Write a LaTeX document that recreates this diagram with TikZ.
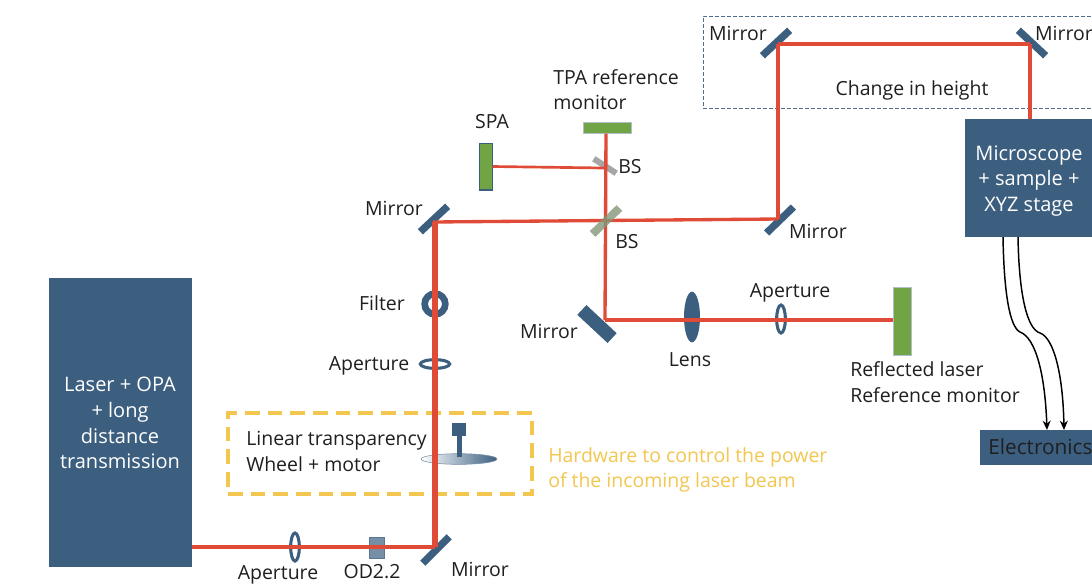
\documentclass[tikz,border=0pt]{standalone}
\usepackage{fontspec}
\setmainfont{Open Sans}
\usetikzlibrary{arrows.meta,shadings,shapes.geometric}
\definecolor{navy}{HTML}{3C5F80}
\definecolor{beamred}{HTML}{DF4B36}
\definecolor{dgreen}{HTML}{70A444}
\definecolor{gold}{HTML}{F2C64F}
\definecolor{ink}{HTML}{1F1F1F}
\definecolor{bsgreen}{HTML}{84977A}
\tikzset{
  lab/.style={font=\fontsize{14.6}{19}\selectfont,text=ink,inner sep=0pt,align=left},
  whitelab/.style={font=\fontsize{15}{19.3}\selectfont,text=white,inner sep=0pt,align=center},
  goldlab/.style={font=\fontsize{14.6}{19}\selectfont,text=gold,inner sep=0pt,align=left},
  box/.style={draw=navy,fill=navy,inner sep=0pt,line width=0.5pt,outer sep=0pt},
  mirror/.style={fill=navy,draw=none,inner sep=0pt,minimum width=28pt,minimum height=5.5pt},
  detector/.style={fill=dgreen,draw=navy!40,line width=0.7pt,inner sep=0pt,outer sep=0pt},
  beam/.style={draw=beamred,line width=2.5pt},
  thinbeam/.style={draw=beamred,line width=2pt},
  thickbeam/.style={draw=beamred,line width=4pt},
  ringel/.style={ellipse,draw=navy,fill=white,line width=2.3pt,inner sep=0pt},
  signal/.style={draw=black,line width=1.1pt,-{Stealth[length=7pt,width=6pt]}}
}
\begin{document}
\begin{tikzpicture}[x=0.75pt,y=-0.75pt]
\useasboundingbox (0,0) rectangle (1092,583);
\fill[white] (0,0) rectangle (1092,583);

% frames
\node[draw=navy!90,dash pattern=on 3pt off 1.5pt,line width=0.65pt,inner sep=0pt,outer sep=0pt,minimum width=300pt,minimum height=69pt,anchor=north west] (heightframe) at (703,16) {};
\node[draw=gold,dash pattern=on 11pt off 6pt,line width=3pt,inner sep=0pt,outer sep=0pt,minimum width=228pt,minimum height=60.75pt,anchor=north west] (powerframe) at (228,413) {};

% boxes
\node[box,minimum width=107pt,minimum height=216pt,anchor=north west] (laser) at (49,278) {};
\node[whitelab] (lasertext) at (120,423) {Laser + OPA\\+ long\\distance\\transmission};
\node[box,minimum width=100pt,minimum height=88pt,anchor=north west] (micro) at (965,119) {};
\node[whitelab] (microtext) at (1029,181) {Microscope\\+ sample +\\XYZ stage};
\node[box,minimum width=90pt,minimum height=25.5pt,anchor=north west] (elec) at (980,430) {};
\node[lab,anchor=west,font=\fontsize{15.6}{19}\selectfont] (electext) at (988,447) {Electronics};

% detectors
\node[detector,minimum width=36pt,minimum height=8.5pt] (tpa) at (607,128) {};
\node[detector,draw=navy,line width=1pt,minimum width=10pt,minimum height=35pt] (spa) at (486,166.5) {};
\node[detector,minimum width=14pt,minimum height=51pt] (refl) at (902.5,321) {};

% mirrors
\node[mirror,rotate=45] (m1) at (436,550) {};
\node[mirror,rotate=43] (m2) at (434,219) {};
\node[mirror,rotate=44] (m3) at (780,220) {};
\node[mirror,rotate=43] (m4) at (776,43) {};
\node[mirror,rotate=-43] (m5) at (1032,43) {};
\node[mirror,rotate=-43,minimum width=31pt,minimum height=10pt] (m6) at (597,324) {};
\node[fill=black!35,inner sep=0pt,minimum width=20pt,minimum height=4.5pt,rotate=-33] (bs2) at (605,166) {};

% junctions
\coordinate (j1) at (435,547);
\coordinate (j2) at (435,222);
\coordinate (j3) at (778,219);
\coordinate (j4) at (778,44);
\coordinate (j5) at (1030,44);
\coordinate (j6) at (605,320);
\coordinate (j7) at (606,221);
\coordinate (j8) at (604,168);

% elements under the beam
\node[ellipse,fill=navy,inner sep=0pt,minimum width=12pt,minimum height=38pt] (lens) at (692,317) {};
\node[ringel,minimum width=6.5pt,minimum height=21pt] (ap3) at (781,319) {};
\node[ringel,minimum width=6.5pt,minimum height=21pt] (ap1) at (295,547) {};
\node[ringel,minimum width=22pt,minimum height=6.5pt] (ap2) at (435,364) {};
\node[circle,draw=navy,fill=white,line width=5pt,inner sep=0pt,minimum size=15.5pt] (filt) at (435,304) {};
\node[fill=navy!70,draw=navy!85,line width=0.5pt,inner sep=0pt,minimum width=11pt,minimum height=15.5pt] (od) at (376.5,547.5) {};

% wheel
\node[ellipse,draw=navy!70,line width=0.4pt,left color=white,middle color=navy!12,right color=navy,inner sep=0pt,minimum width=57pt,minimum height=8pt] (wheel) at (459,459) {};
\node[fill=navy,inner sep=0pt,minimum width=10.5pt,minimum height=10pt] (motor) at (459,429.5) {};
\node[fill=navy,inner sep=0pt,minimum width=4pt,minimum height=16pt] (shaft) at (459.5,446) {};

% beams
\draw[beam] (laser.east |- j1) -- (j1);
\draw[thickbeam] (j1) -- (j2);
\draw[beam] ([xshift=-1.5pt]j2) -- (j3);
\draw[beam] (j3) -- (j4);
\draw[beam] (j4) -- (j5);
\draw[beam] (j5) -- (micro.north -| j5);
\draw[beam] (tpa.south -| j7) -- (j6);
\draw[thinbeam] (spa.east) -- (j8);
\draw[beam] (j6) -- (refl.west |- j6);

\node[fill=bsgreen,opacity=0.8,inner sep=0pt,minimum width=28pt,minimum height=6pt,rotate=44] (bs1) at (606,221) {};

% signal lines
\draw[signal] (1003,237) .. controls (1004,295) and (1010,327) .. (1020,332) .. controls (1036,338) and (1045,375) .. (1047,430);
\draw[signal] (1018,237) .. controls (1019,295) and (1027,329) .. (1040,333) .. controls (1054,338) and (1063,375) .. (1064,430);

% labels
\node[lab,anchor=center] (t1) at (738,33) {Mirror};
\node[lab,anchor=center] (t2) at (1064,33) {Mirror};
\node[lab,anchor=center] (t3) at (912,90.5) {Change in height};
\node[lab,anchor=west] (t4) at (553,89.5) {TPA reference\\monitor};
\node[lab,anchor=center] (t5) at (492,122) {SPA};
\node[lab,anchor=center] (t6) at (630,167) {BS};
\node[lab,anchor=center] (t7) at (627,242) {BS};
\node[lab,anchor=center] (t8) at (394,208) {Mirror};
\node[lab,anchor=center] (t9) at (818,231) {Mirror};
\node[lab,anchor=center] (t10) at (382,303) {Filter};
\node[lab,anchor=center] (t11) at (369,366) {Aperture};
\node[lab,anchor=center] (t12) at (549,331) {Mirror};
\node[lab,anchor=center] (t13) at (690,360) {Lens};
\node[lab,anchor=center] (t14) at (790,293) {Aperture};
\node[lab,anchor=west] (t15) at (850,382) {Reflected laser\\Reference monitor};
\node[lab,anchor=west] (t16) at (246,451.5) {Linear transparency\\Wheel + motor};
\node[goldlab,anchor=west] (t17) at (548,470) {Hardware to control the power\\of the incoming laser beam};
\node[lab,anchor=center] (t18) at (278,575) {Aperture};
\node[lab,anchor=center] (t19) at (372,572) {OD2.2};
\node[lab,anchor=center] (t20) at (480,569) {Mirror};
\end{tikzpicture}
\end{document}
